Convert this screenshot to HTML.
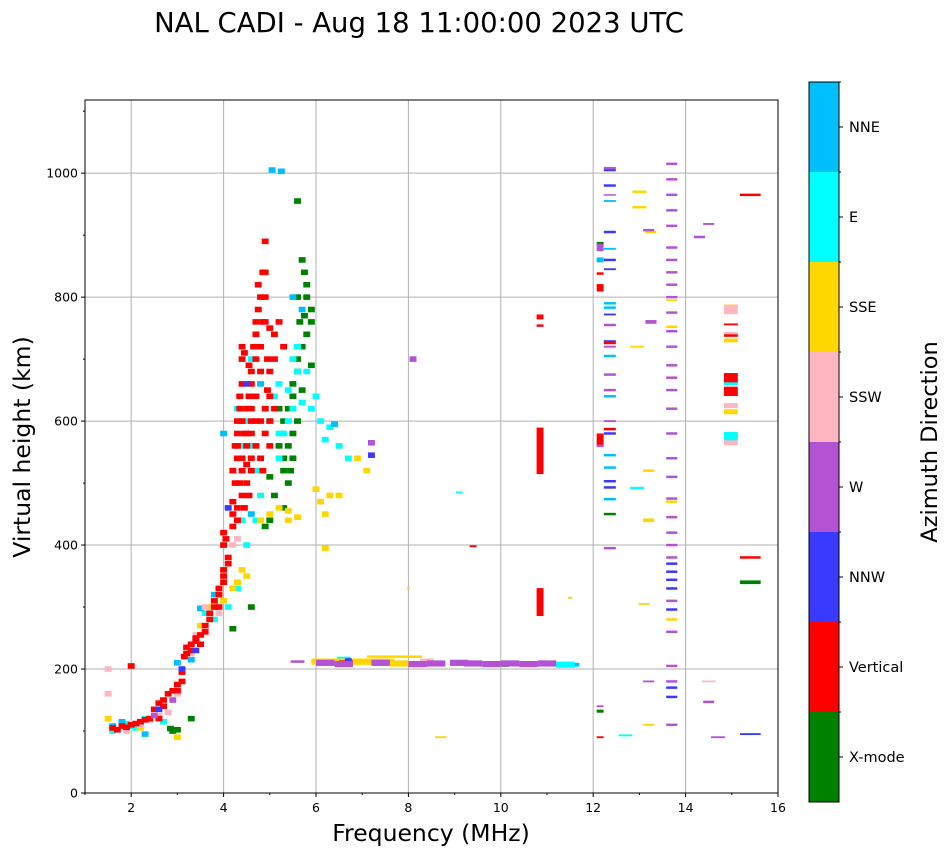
<!DOCTYPE html>
<html><head><meta charset="utf-8"><style>
body{margin:0;background:#fff;font-family:"DejaVu Sans","Liberation Sans",sans-serif}
svg{display:block}
</style></head><body>
<svg id="chart" width="951" height="856" font-family="DejaVu Sans, Liberation Sans, sans-serif">
<text x="419" y="32" font-size="27.5" text-anchor="middle">NAL CADI - Aug 18 11:00:00 2023 UTC</text>
<g id="grid"></g><g id="marks"></g><g id="axes"></g><g id="cbar"></g>
</svg>
<script>
const dirNames=["X-mode","Vertical","NNW","W","SSW","SSE","E","NNE"];
const dirColors=["#008000","#ff0000","#3a3aff","#b452d4","#ffb6c1","#ffd700","#00ffff","#00bfff"];
const xTicks=[2,4,6,8,10,12,14,16];
const yTicks=[0,200,400,600,800,1000];
// [freq MHz, height km, width MHz, height-extent km]
const xmodePts=[[5.3,460],[5.4,500],[5.5,540],[5.3,520],[5.6,600],[5.7,650],[5.6,700],[5.8,740],[5.9,780],[5.8,820],[5.7,860],[5.75,770],[5.5,660],[5.4,620],[5.2,560],[5.0,510],[4.9,430],[4.6,300],[3.0,102],[2.85,104],[3.3,120],[5.6,955],[12.36,450,0.26,4],[4.2,265],[5.9,690],[5.5,580],[5.3,600],[12.15,886,0.15,6],[12.15,132,0.15,5],[15.4,340,0.45,6],[10.1,208],[5.6,680],[5.7,720],[5.8,800],[5.5,640],[5.4,560],[5.3,540],[5.9,760],[5.65,760],[5.45,520],[5.1,480],[5.2,620],[5.75,840],[5.6,800],[5.0,440],[2.9,100]];
const verticalPts=[[1.6,105],[1.8,108],[2.0,110],[2.2,115],[2.4,120],[2.5,135],[2.6,145],[2.7,150],[2.8,160],[2.9,165],[3.0,175],[3.1,195],[3.15,220],[3.2,235],[3.3,240],[3.4,245],[3.5,255],[3.6,270],[3.7,280],[3.8,300],[3.9,320],[4.0,340],[4.0,360],[4.0,420],[4.1,380],[4.2,470],[4.2,520],[4.25,560],[4.3,600],[4.35,640],[4.4,700],[4.4,540],[4.5,580],[4.6,620],[4.6,660],[4.7,700],[4.7,760],[4.8,800],[4.85,840],[4.9,890],[4.75,820],[4.55,690],[4.8,720],[4.9,760],[5.0,750],[5.1,700],[4.95,650],[5.0,600],[5.1,620],[4.9,580],[4.8,540],[4.6,520],[4.5,500],[4.4,480],[4.3,440],[5.2,760],[5.3,720],[4.45,710],[4.3,560],[4.4,600],[3.9,300],[3.5,240],[10.85,552,0.15,75],[10.85,308,0.15,45],[10.85,768,0.15,8],[10.85,754,0.15,4],[12.15,815,0.15,12],[12.15,570,0.15,20],[12.15,838,0.15,4],[12.36,726,0.26,4],[12.36,587,0.26,4],[15.4,965,0.45,4],[15.4,380,0.45,4],[14.98,670,0.3,15],[14.98,648,0.3,15],[14.98,738,0.3,4],[14.98,756,0.3,3],[9.4,398,0.15,3],[6.9,212,0.8,4],[2.0,205],[12.15,90,0.15,3],
[1.7,102],[1.9,106],[2.1,112],[2.3,118],[2.6,120],[2.7,140],[3.0,165],[3.1,180],[3.2,225],[3.3,230],[3.4,250],[3.6,260],[3.7,290],[3.8,310],[3.9,330],[4.0,350],[4.0,400],[4.05,410],[4.1,370],[4.2,450],[4.25,500],[4.3,540],[4.3,580],[4.35,620],[4.4,660],[4.4,720],[4.45,580],[4.5,560],[4.5,620],[4.55,640],[4.6,680],[4.6,600],[4.65,720],[4.7,740],[4.7,640],[4.75,780],[4.8,680],[4.85,760],[4.9,800],[4.9,840],[4.95,700],[5.0,680],[5.0,640],[5.1,740],[4.8,600],[4.7,560],[4.6,540],[4.5,530],[4.4,520],[4.35,500],[4.45,460],[4.55,480],[4.3,460],[4.2,430],[4.6,580],[4.7,600],[4.9,620],[5.0,560],[4.85,520]];
const nnwPts=[[12.36,1005,0.26,4],[12.36,980,0.26,4],[12.36,905,0.26,4],[12.36,860,0.26,4],[12.36,845,0.26,3],[12.36,772,0.26,3],[12.36,729,0.26,3],[12.36,580,0.26,4],[12.36,503,0.26,4],[12.36,493,0.26,4],[13.7,370,0.24,4],[13.7,357,0.24,4],[13.7,344,0.24,4],[13.7,330,0.24,4],[13.7,296,0.24,4],[13.7,170,0.24,4],[13.7,155,0.24,4],[15.4,95,0.45,3],[7.2,545],[6.7,213],[3.1,200],[2.6,135],[3.4,230],[4.1,460],[4.5,660]];
const wPts=[[5.6,212,0.3,4],[8.1,700],[7.2,565],[13.2,908,0.24,4],[13.25,760,0.24,6],[14.3,897,0.24,4],[14.5,918,0.24,3],[14.5,147,0.24,4],[14.7,90,0.3,3],[13.2,180,0.24,3],[12.36,395,0.26,4],[12.36,600,0.26,3],[12.36,650,0.26,4],[12.36,675,0.26,4],[12.36,720,0.26,3],[12.36,755,0.26,4],[12.36,1008,0.26,4],[12.36,965,0.26,2],[12.15,880,0.15,12],[12.15,560,0.15,4],[12.15,140,0.15,3],[2.5,125],[2.9,150]];
const wColumnH=[1015,990,965,940,915,880,860,840,820,800,775,745,720,690,670,650,620,580,540,510,475,445,420,400,380,310,260,205,180,110];
const sswPts=[[1.9,100],[2.2,110],[2.4,118],[2.6,125],[3.0,160],[3.4,255],[3.9,290],[4.3,410],[4.5,620],[14.5,180,0.3,3],[14.98,780,0.3,15],[14.98,740,0.3,8],[14.98,625,0.3,8],[14.98,565,0.3,8],[1.5,160],[1.5,200],[8.4,215,0.3,4],[2.8,130],[3.3,225],[3.6,300],[4.2,400],[4.6,640]];
const ssePts=[[1.5,120],[3.7,300],[4.0,310],[4.3,340],[4.5,350],[4.8,440],[5.2,460],[5.4,455],[5.6,445],[6.1,470],[6.2,450],[6.3,480],[6.5,480],[6.9,540],[7.1,520],[6.0,490],[6.2,395],[8.7,90,0.25,3],[8.0,330,0.06,3],[11.5,315,0.1,3],[12.95,720,0.3,3],[13.0,970,0.3,4],[13.0,945,0.3,4],[13.2,440,0.24,6],[13.2,520,0.24,4],[13.1,305,0.24,3],[13.2,110,0.24,3],[13.7,110,0.24,3],[13.7,280,0.24,4],[13.7,470,0.24,4],[13.7,795,0.24,3],[13.7,752,0.24,4],[14.98,615,0.3,8],[14.98,730,0.3,6],[14.98,785,0.3,6],[13.25,905,0.24,4],[6.8,212,1.8,10],[7.7,220,1.2,4],[3.0,90],[2.2,105],[3.5,270],[4.2,330],[4.4,360],[5.0,450],[5.4,440]];
const ePts=[[1.6,100],[1.9,112],[2.1,105],[2.3,120],[3.6,290],[3.8,280],[4.1,300],[4.3,330],[4.5,400],[4.3,620],[4.5,600],[4.6,560],[4.7,520],[4.8,480],[5.0,600],[5.1,640],[5.2,660],[5.4,650],[5.5,700],[5.6,720],[5.3,580],[5.7,630],[5.9,620],[6.1,600],[6.3,590],[6.5,560],[6.7,540],[5.0,600],[5.8,680],[9.1,485,0.15,3],[12.7,93,0.3,3],[12.95,492,0.3,4],[14.98,575,0.3,15],[14.98,662,0.3,8],[6.6,215,0.3,10],[4.4,440],[4.7,440],[5.2,580],[5.4,600],[5.5,620],[5.2,540],[5.6,680],[6.0,640],[6.2,570],[4.4,560],[4.6,700],[2.0,108],[2.7,115]];
const nnePts=[[1.6,108],[2.3,95],[3.0,210],[3.5,298],[4.0,580],[6.4,595],[5.25,1003],[5.05,1005],[5.7,780],[11.35,207,0.7,6],[10.6,207,0.5,4],[12.36,955,0.26,3],[12.36,878,0.26,3],[12.36,790,0.26,4],[12.36,783,0.26,4],[12.36,705,0.26,4],[12.36,640,0.26,4],[12.36,545,0.26,4],[12.36,525,0.26,4],[12.36,474,0.26,4],[12.15,860,0.15,8],[4.6,450],[5.5,800],[3.3,215],[3.8,320],[4.4,600],[4.8,660],[1.8,115]];
const eLayerF=[6.0,6.4,6.8,7.2,7.6,8.0,8.4,8.9,9.2,9.6,10.0,10.4,10.8,11.2];
const eLayerH=[210,208,212,210,209,208,209,210,209,208,209,208,209,207];
const eLayerDir=[3,3,5,3,5,3,3,3,3,3,3,3,3,6];

const X0=85,X1=778,Y0=793,Y1=100,FMIN=1,FMAX=16,HMAX=1118;
const xs=f=>X0+(f-FMIN)/(FMAX-FMIN)*(X1-X0);
const ys=h=>Y0-h/HMAX*(Y0-Y1);
const NS="http://www.w3.org/2000/svg";
function mk(t,a,p){const e=document.createElementNS(NS,t);for(const k in a)e.setAttribute(k,a[k]);p.appendChild(e);return e;}
const grid=document.getElementById('grid'),marks=document.getElementById('marks'),axes=document.getElementById('axes'),cbar=document.getElementById('cbar');
xTicks.forEach(t=>{if(t<FMAX){const l=mk('line',{x1:xs(t),x2:xs(t),y1:Y1,y2:Y0,stroke:'#b0b0b0','stroke-width':1},grid);

}});
yTicks.forEach(t=>{if(t>0){const l=mk('line',{x1:X0,x2:X1,y1:ys(t),y2:ys(t),stroke:'#b0b0b0','stroke-width':1},grid);

}});
function draw(pts,dir){pts.forEach(p=>{const w=p[2]||0.15,hh=p[3]||9;
const r=mk('rect',{x:xs(p[0]-w/2),y:ys(p[1]+hh/2),width:Math.max(1.5,xs(w)-xs(0)),height:Math.max(1.5,ys(0)-ys(hh)),fill:dirColors[dir]},marks);

});}
draw(xmodePts,0);draw(ePts,6);draw(nnePts,7);draw(ssePts,5);draw(sswPts,4);draw(verticalPts,1);draw(nnwPts,2);draw(wPts,3);
draw(wColumnH.map(h=>[13.7,h,0.24,4]),3);
eLayerF.forEach((f,i)=>draw([[f+0.2,eLayerH[i],0.4,10]],eLayerDir[i]));
mk('rect',{x:X0,y:Y1,width:X1-X0,height:Y0-Y1,fill:'none',stroke:'#000','stroke-width':1},axes);
xTicks.forEach(t=>{mk('line',{x1:xs(t),x2:xs(t),y1:Y0,y2:Y0+4,stroke:'#000'},axes);
const tx=mk('text',{x:xs(t),y:Y0+19,'font-size':12.5,'text-anchor':'middle'},axes);tx.textContent=t;

});
for(let t=1;t<16;t+=2)mk('line',{x1:xs(t),x2:xs(t),y1:Y0,y2:Y0+2,stroke:'#000'},axes);
yTicks.forEach(t=>{mk('line',{x1:X0-4,x2:X0,y1:ys(t),y2:ys(t),stroke:'#000'},axes);
const tx=mk('text',{x:X0-7,y:ys(t)+4.5,'font-size':12.5,'text-anchor':'end'},axes);tx.textContent=t;

});
for(let t=100;t<HMAX;t+=200)mk('line',{x1:X0-2,x2:X0,y1:ys(t),y2:ys(t),stroke:'#000'},axes);
const xl=mk('text',{x:431,y:841,'font-size':23.5,'text-anchor':'middle'},axes);xl.textContent='Frequency (MHz)';


const yl=mk('text',{x:0,y:0,'font-size':23.5,'text-anchor':'middle',transform:'translate(30,447) rotate(-90)'},axes);yl.textContent='Virtual height (km)';


const CB0=802,CB1=82,BX=809,BW=30,bh=(CB0-CB1)/8;
dirNames.forEach((n,i)=>{const y=CB0-(i+1)*bh;
const r=mk('rect',{x:BX,y:y,width:BW,height:bh,fill:dirColors[i]},cbar);


mk('line',{x1:BX+BW,x2:BX+BW+4,y1:y+bh/2,y2:y+bh/2,stroke:'#000'},cbar);
mk('line',{x1:BX+BW,x2:BX+BW+2,y1:y,y2:y,stroke:'#000'},cbar);
const t=mk('text',{x:BX+BW+10,y:y+bh/2+5,'font-size':14.5},cbar);t.textContent=n;

});
mk('rect',{x:BX,y:CB1,width:BW,height:CB0-CB1,fill:'none',stroke:'#000'},cbar);
const cl=mk('text',{x:0,y:0,'font-size':22.5,'text-anchor':'middle',transform:'translate(937,442) rotate(-90)'},cbar);cl.textContent='Azimuth Direction';


</script>
</body></html>
